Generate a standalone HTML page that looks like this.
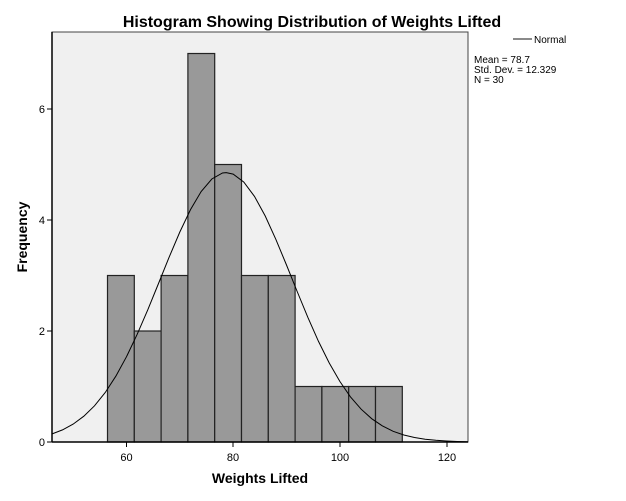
<!DOCTYPE html>
<html><head><meta charset="utf-8"><style>
body{margin:0;background:#fff;}
svg{display:block;font-family:"Liberation Sans",Arial,sans-serif;}
</style></head><body>
<svg width="626" height="501" viewBox="0 0 626 501" xmlns="http://www.w3.org/2000/svg">
<rect width="626" height="501" fill="#fff"/>
<text x="312" y="27" text-anchor="middle" font-size="16" font-weight="bold">Histogram Showing Distribution of Weights Lifted</text>
<rect x="52" y="32" width="416" height="410" fill="#f0f0f0" stroke="#444" stroke-width="1"/>
<g fill="#999" stroke="#222" stroke-width="1.2">
<rect x="107.5" y="275.5" width="26.8" height="166.5"/>
<rect x="134.3" y="331" width="26.8" height="111"/>
<rect x="161.1" y="275.5" width="26.8" height="166.5"/>
<rect x="187.9" y="53.5" width="26.8" height="388.5"/>
<rect x="214.7" y="164.5" width="26.8" height="277.5"/>
<rect x="241.5" y="275.5" width="26.8" height="166.5"/>
<rect x="268.3" y="275.5" width="26.8" height="166.5"/>
<rect x="295.1" y="386.5" width="26.8" height="55.5"/>
<rect x="321.9" y="386.5" width="26.8" height="55.5"/>
<rect x="348.7" y="386.5" width="26.8" height="55.5"/>
<rect x="375.5" y="386.5" width="26.8" height="55.5"/>
</g>
<polyline fill="none" stroke="#000" stroke-width="1" points="51.83,434.0 62.5,429.9 73.17,424.1 83.83,416.2 94.5,405.8 105.17,392.6 115.83,376.2 126.5,356.7 137.17,334.3 147.83,309.7 158.5,283.5 169.17,257.1 179.83,232.0 190.5,209.6 201.17,191.5 211.83,179.0 222.5,173.0 226.23,172.6 233.17,174.1 243.83,182.1 254.5,196.4 265.17,215.9 275.83,239.3 286.5,265.0 297.17,291.5 307.83,317.3 318.5,341.4 329.17,362.9 339.83,381.4 350.5,396.9 361.17,409.2 371.83,418.8 382.5,426.0 393.17,431.3 403.83,435.0 414.5,437.5 425.17,439.2 435.83,440.3 446.5,441.0 457.17,441.5 467.83,441.8"/>
<line x1="52" y1="442" x2="468" y2="442" stroke="#000" stroke-width="1.5"/>
<line x1="52" y1="32" x2="52" y2="442" stroke="#000" stroke-width="1.5"/>
<g stroke="#000" stroke-width="1">
<line x1="47" y1="442" x2="52" y2="442"/><line x1="47" y1="331" x2="52" y2="331"/>
<line x1="47" y1="220" x2="52" y2="220"/><line x1="47" y1="109" x2="52" y2="109"/>
<line x1="126.5" y1="442" x2="126.5" y2="447"/><line x1="233" y1="442" x2="233" y2="447"/>
<line x1="340" y1="442" x2="340" y2="447"/><line x1="447" y1="442" x2="447" y2="447"/>
</g>
<g font-size="11" text-anchor="end">
<text x="45" y="446">0</text><text x="45" y="335">2</text><text x="45" y="224">4</text><text x="45" y="113">6</text>
</g>
<g font-size="11" text-anchor="middle">
<text x="126.5" y="461">60</text><text x="233" y="461">80</text><text x="340" y="461">100</text><text x="447" y="461">120</text>
</g>
<text x="260" y="483" text-anchor="middle" font-size="14" font-weight="bold">Weights Lifted</text>
<text transform="translate(27,237) rotate(-90)" text-anchor="middle" font-size="14" font-weight="bold">Frequency</text>
<line x1="513" y1="39" x2="532" y2="39" stroke="#444" stroke-width="1.2"/>
<text x="534" y="43" font-size="10">Normal</text>
<g font-size="10"><text x="474" y="63">Mean = 78.7</text><text x="474" y="73">Std. Dev. = 12.329</text><text x="474" y="83">N = 30</text></g>
</svg>
</body></html>
